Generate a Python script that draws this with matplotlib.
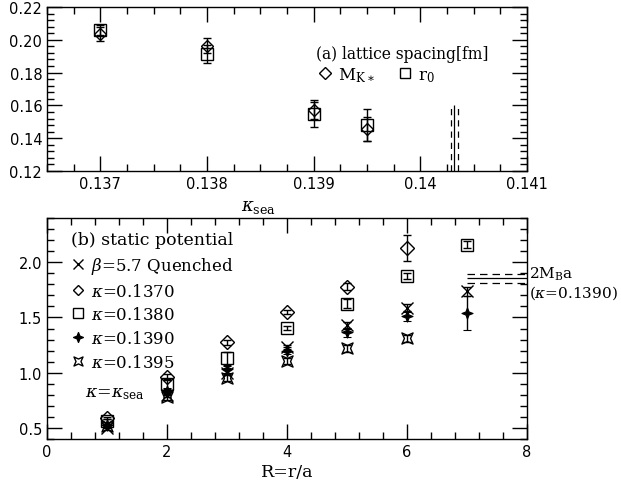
import numpy as np
import matplotlib
matplotlib.use("Agg")
import matplotlib.pyplot as plt
from matplotlib.path import Path
from matplotlib.ticker import MultipleLocator, FixedLocator, FixedFormatter
from matplotlib.lines import Line2D

plt.rcParams['font.family'] = ['DejaVu Sans']
plt.rcParams['mathtext.fontset'] = 'dejavuserif'

# ---------------- data: panel (a) ----------------
kappa_sea = [0.1370, 0.1380, 0.1390, 0.1395]
a_mk = [0.2035, 0.1965, 0.1575, 0.1455]
a_mk_err = [0.0045, 0.0045, 0.0055, 0.0075]
a_r0 = [0.2058, 0.1915, 0.1545, 0.1480]
a_r0_err = [0.0030, 0.0055, 0.0075, 0.0100]
kappa_c = 0.14032
kappa_c_err = 0.00003
kappa_c_span = [0.12, 0.16]
top_xticks = [0.137, 0.138, 0.139, 0.140, 0.141]
top_xticklabels = ["0.137", "0.138", "0.139", "0.14", "0.141"]
top_yticks = [0.12, 0.14, 0.16, 0.18, 0.20, 0.22]
top_yticklabels = ["0.12", "0.14", "0.16", "0.18", "0.20", "0.22"]

# ---------------- data: panel (b) ----------------
R = [1, 2, 3, 4, 5, 6, 7]
V_quenched = [0.50, 0.80, 1.00, 1.23, 1.43, 1.59, 1.735]
V_quenched_err = [0.015, 0.02, 0.02, 0.02, 0.03, 0.03, 0.04]
V_1370 = [0.59, 0.965, 1.275, 1.547, 1.78, 2.13]
V_1370_err = [0.01, 0.02, 0.02, 0.02, 0.03, 0.12]
V_1380 = [0.56, 0.895, 1.13, 1.405, 1.625, 1.875, 2.16]
V_1380_err = [0.02, 0.04, 0.06, 0.02, 0.04, 0.03, 0.035]
V_1390 = [0.53, 0.83, 1.03, 1.20, 1.365, 1.51, 1.54]
V_1390_err = [0.02, 0.03, 0.03, 0.03, 0.04, 0.04, 0.15]
V_1395 = [0.52, 0.78, 0.955, 1.105, 1.22, 1.31]
V_1395_err = [0.02, 0.03, 0.03, 0.03, 0.03, 0.03]
twoMB = 1.855
twoMB_err = 0.04
twoMB_R = [7, 8]
bot_xticks = [0, 2, 4, 6, 8]
bot_yticks = [0.5, 1.0, 1.5, 2.0]
bot_yticklabels = ["0.5", "1.0", "1.5", "2.0"]

# ---------------- custom markers ----------------
star4 = Path([(0, 1), (0.28, 0.28), (1, 0), (0.28, -0.28), (0, -1),
              (-0.28, -0.28), (-1, 0), (-0.28, 0.28), (0, 1)],
             [Path.MOVETO] + [Path.LINETO] * 7 + [Path.CLOSEPOLY])
astroid = Path([(1, 1), (0.55, 0), (1, -1), (0, -0.55), (-1, -1),
                (-0.55, 0), (-1, 1), (0, 0.55), (1, 1)],
               [Path.MOVETO] + [Path.LINETO] * 7 + [Path.CLOSEPOLY])

fig = plt.figure(figsize=(6.21, 4.85), dpi=100)
ax1 = fig.add_axes([47/621, 1-172/485, 480/621, 164/485])
ax2 = fig.add_axes([47/621, 1-440/485, 480/621, 221/485])

def style_axes(ax):
    ax.tick_params(which='both', direction='in', top=True, right=True,
                   colors='black', labelsize=10.5, width=1.0)
    ax.tick_params(which='major', length=11)
    ax.tick_params(which='minor', length=5)
    for s in ax.spines.values():
        s.set_linewidth(1.0)

ebkw = dict(ecolor='black', elinewidth=1.0, capsize=3, capthick=1.0, linestyle='none')

# ---------------- panel (a) ----------------
ax1.errorbar(kappa_sea, a_r0, yerr=a_r0_err, marker='s', ms=8.5, mfc='none',
             mec='black', mew=1.0, **ebkw)
ax1.errorbar(kappa_sea, a_mk, yerr=a_mk_err, marker='D', ms=6.5, mfc='none',
             mec='black', mew=1.0, **ebkw)
ax1.vlines([kappa_c], kappa_c_span[0], kappa_c_span[1], colors='black', lw=0.9)
ax1.vlines([kappa_c - kappa_c_err, kappa_c + kappa_c_err], kappa_c_span[0],
           kappa_c_span[1], colors='black', lw=0.9, linestyles=(0, (5, 4)))
ax1.set_xlim(0.1365, 0.141)
ax1.set_ylim(0.12, 0.22)
ax1.xaxis.set_major_locator(FixedLocator(top_xticks))
ax1.xaxis.set_major_formatter(FixedFormatter(top_xticklabels))
ax1.xaxis.set_minor_locator(MultipleLocator(0.00025))
ax1.yaxis.set_major_locator(FixedLocator(top_yticks))
ax1.yaxis.set_major_formatter(FixedFormatter(top_yticklabels))
ax1.yaxis.set_minor_locator(MultipleLocator(0.004))
style_axes(ax1)
ax1.set_xlabel(r"$\kappa_{\rm sea}$", fontsize=13, labelpad=8)
ax1.xaxis.set_label_coords(0.44, -0.16)

h_mk = Line2D([], [], marker='D', ms=6, mfc='none', mec='black', ls='none')
h_r0 = Line2D([], [], marker='s', ms=7, mfc='none', mec='black', ls='none')
leg1 = ax1.legend([h_mk, h_r0], [r"M$_{\rm K\ast}$", r"r$_0$"], ncol=2,
                  title="(a) lattice spacing[fm]", frameon=False,
                  loc='upper left', bbox_to_anchor=(0.54, 0.83),
                  prop={'family': 'DejaVu Serif', 'size': 12},
                  title_fontproperties={'family': 'DejaVu Serif', 'size': 11.2},
                  handletextpad=0.3, columnspacing=1.3, handlelength=1.0,
                  borderpad=0.1, labelspacing=0.2)
leg1._legend_box.align = "left"

# ---------------- panel (b) ----------------
ax2.errorbar(R, V_1380, yerr=V_1380_err, marker='s', ms=8.5, mfc='none',
             mec='black', mew=1.0, **ebkw)
ax2.errorbar(R[:len(V_1370)], V_1370, yerr=V_1370_err, marker='D', ms=7,
             mfc='none', mec='black', mew=1.0, **ebkw)
ax2.errorbar(R, V_quenched, yerr=V_quenched_err, marker='x', ms=8,
             mec='black', mew=1.0, **ebkw)
ax2.errorbar(R, V_1390, yerr=V_1390_err, marker=star4, ms=8, mfc='black',
             mec='black', mew=0.8, **ebkw)
ax2.errorbar(R[:len(V_1395)], V_1395, yerr=V_1395_err, marker=astroid, ms=8,
             mfc='none', mec='black', mew=1.0, **ebkw)
ax2.hlines([twoMB], twoMB_R[0], twoMB_R[1], colors='black', lw=0.9)
ax2.hlines([twoMB - twoMB_err, twoMB + twoMB_err], twoMB_R[0], twoMB_R[1],
           colors='black', lw=0.9, linestyles=(0, (6, 4)))
ax2.set_xlim(0, 8)
ax2.set_ylim(0.4, 2.4)
ax2.xaxis.set_major_locator(FixedLocator(bot_xticks))
ax2.xaxis.set_minor_locator(MultipleLocator(0.4))
ax2.yaxis.set_major_locator(FixedLocator(bot_yticks))
ax2.yaxis.set_major_formatter(FixedFormatter(bot_yticklabels))
ax2.yaxis.set_minor_locator(MultipleLocator(0.1))
style_axes(ax2)
ax2.set_xlabel("R=r/a", fontsize=12.5, family='DejaVu Serif', labelpad=3)

handles = [Line2D([], [], marker='x', ms=7, mec='black', ls='none'),
           Line2D([], [], marker='D', ms=5, mfc='none', mec='black', ls='none'),
           Line2D([], [], marker='s', ms=6.5, mfc='none', mec='black', ls='none'),
           Line2D([], [], marker=star4, ms=7, mfc='black', mec='black', ls='none'),
           Line2D([], [], marker=astroid, ms=6.5, mfc='none', mec='black', ls='none')]
labels = [r"$\beta$=5.7 Quenched", r"$\kappa$=0.1370", r"$\kappa$=0.1380",
          r"$\kappa$=0.1390", r"$\kappa$=0.1395"]
leg2 = ax2.legend(handles, labels, title="(b) static potential", frameon=False,
                  loc='upper left', bbox_to_anchor=(0.03, 0.985),
                  prop={'family': 'DejaVu Serif', 'size': 12},
                  title_fontproperties={'family': 'DejaVu Serif', 'size': 12.5},
                  handletextpad=0.4, handlelength=0.8, labelspacing=0.4,
                  borderpad=0.1)
leg2._legend_box.align = "left"
ax2.text(0.08, 0.195, r"$\kappa$=$\kappa_{\rm sea}$", transform=ax2.transAxes,
         fontsize=12.5, family='DejaVu Serif')

ax2.text(1.005, 0.75, r"2M$_{\rm B}$a", transform=ax2.transAxes,
         fontsize=11, family='DejaVu Serif', va='center', ha='left')
ax2.text(1.005, 0.665, r"($\kappa$=0.1390)", transform=ax2.transAxes,
         fontsize=11, family='DejaVu Serif', va='center', ha='left')

fig.savefig("out.png", dpi=100)
